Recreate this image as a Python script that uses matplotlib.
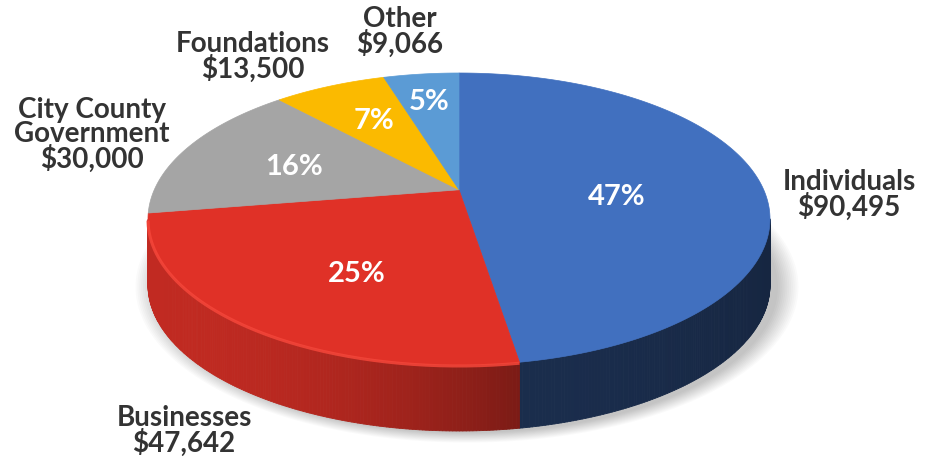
import numpy as np
import matplotlib
matplotlib.use("Agg")
import matplotlib.pyplot as plt
from matplotlib.patches import Polygon
from matplotlib.collections import PolyCollection
import matplotlib.colors as mc

# ---- data ----
categories = ["Individuals", "Businesses", "City County\nGovernment", "Foundations", "Other"]
values = [90495, 47642, 30000, 13500, 9066]

# ---- style ----
colors = ["#4170BF", "#E03127", "#A5A5A5", "#FBBA00", "#5B9BD5"]
side_shade = [(0.40, 0.34), (0.86, 0.55), (0.8, 0.8), (0.8, 0.8), (0.8, 0.8)]
rim_colors = [None, "#F5463A", None, None, None]
# (x centre, baseline of the last line)
label_pos = [(849, 216), (184, 452), (92, 168), (253, 78), (400, 53)]
pct_pos = [(617, 197), (357, 274), (294, 167), (374, 121), (429, 102)]
TEXT = "#333333"
FONT = "Lato"

fig = plt.figure(figsize=(9.25, 4.58), dpi=100)
ax = fig.add_axes([0, 0, 1, 1])
ax.set_xlim(0, 925)
ax.set_ylim(458, 0)
ax.axis("off")

CX, CY, RX, RY, T, D = 459.0, 219.0, 311.0, 146.0, -0.2, 66.0
S = np.sqrt(1 - T * T)


def proj(phi):
    u = np.cos(phi)
    v = -np.sin(phi)
    d = 1 + T * v
    up = u * S / d
    vp = (v + T) / d
    return CX + RX * up, CY + RY * vp, vp


# shadow
th = np.linspace(0, 2 * np.pi, 200)
for k in range(12):
    g = 1 + k * 0.006
    sx = CX + 8 + RX * g * np.cos(th)
    sy = CY + D + 2 + RY * g * np.sin(th)
    ax.add_patch(Polygon(np.c_[sx, sy], closed=True, facecolor="#000000",
                         edgecolor="none", alpha=0.018, zorder=1))

total = float(sum(values))
cum = np.cumsum([0] + values) / total
angles = [(np.deg2rad(90 - 360 * cum[i]), np.deg2rad(90 - 360 * cum[i + 1]))
          for i in range(len(values))]

# sides
for i, (a0, a1) in enumerate(angles):
    n = max(4, int(abs(a1 - a0) / (2 * np.pi) * 720))
    ph = np.linspace(a0, a1, n)
    x, y, vp = proj(ph)
    vis = vp >= -0.001
    if vis.sum() < 2:
        continue
    xv = x[vis]
    xa, xb = xv.min(), xv.max()
    base = np.array(mc.to_rgb(colors[i]))
    f0, f1 = side_shade[i]
    quads, cols = [], []
    for j in range(n - 1):
        if not (vis[j] and vis[j + 1]):
            continue
        quads.append([(x[j], y[j]), (x[j + 1], y[j + 1]),
                      (x[j + 1], y[j + 1] + D), (x[j], y[j] + D)])
        xm = 0.5 * (x[j] + x[j + 1])
        r = (xm - xa) / max(xb - xa, 1)
        if f0 > f1:
            f = f0 + (f1 - f0) * r ** 2
        else:
            f = f0 + (f1 - f0) * r
        cols.append(np.clip(base * f, 0, 1))
    pc = PolyCollection(quads, facecolors=cols, edgecolors=cols, linewidths=0.6, zorder=2)
    ax.add_collection(pc)

# top faces
center = (CX, CY + RY * T)
for i, (a0, a1) in enumerate(angles):
    n = max(4, int(abs(a1 - a0) / (2 * np.pi) * 720))
    ph = np.linspace(a0, a1, n)
    x, y, vp = proj(ph)
    pts = np.vstack([[center], np.c_[x, y]])
    ax.add_patch(Polygon(pts, closed=True, facecolor=colors[i], edgecolor=colors[i],
                         linewidth=0.5, zorder=3))
    if rim_colors[i] is not None:
        vis = vp >= 0
        ax.plot(x[vis], y[vis] + 1.0, color=rim_colors[i], lw=2.2, alpha=0.85,
                solid_capstyle="butt", zorder=4)

# labels
for i, name in enumerate(categories):
    txt = name + "\n" + "${:,}".format(values[i])
    lx, ly = label_pos[i]
    ax.text(lx, ly, txt, ha="center", va="baseline", ma="center", fontsize=20,
            fontweight="bold", color=TEXT, family=FONT, linespacing=0.9, zorder=6)
    px, py = pct_pos[i]
    ax.text(px, py, "{:.0f}%".format(100 * values[i] / total), ha="center", va="center",
            fontsize=21, fontweight="bold", color="white", family=FONT, zorder=6)

fig.savefig("out.png", dpi=100, facecolor="white")
